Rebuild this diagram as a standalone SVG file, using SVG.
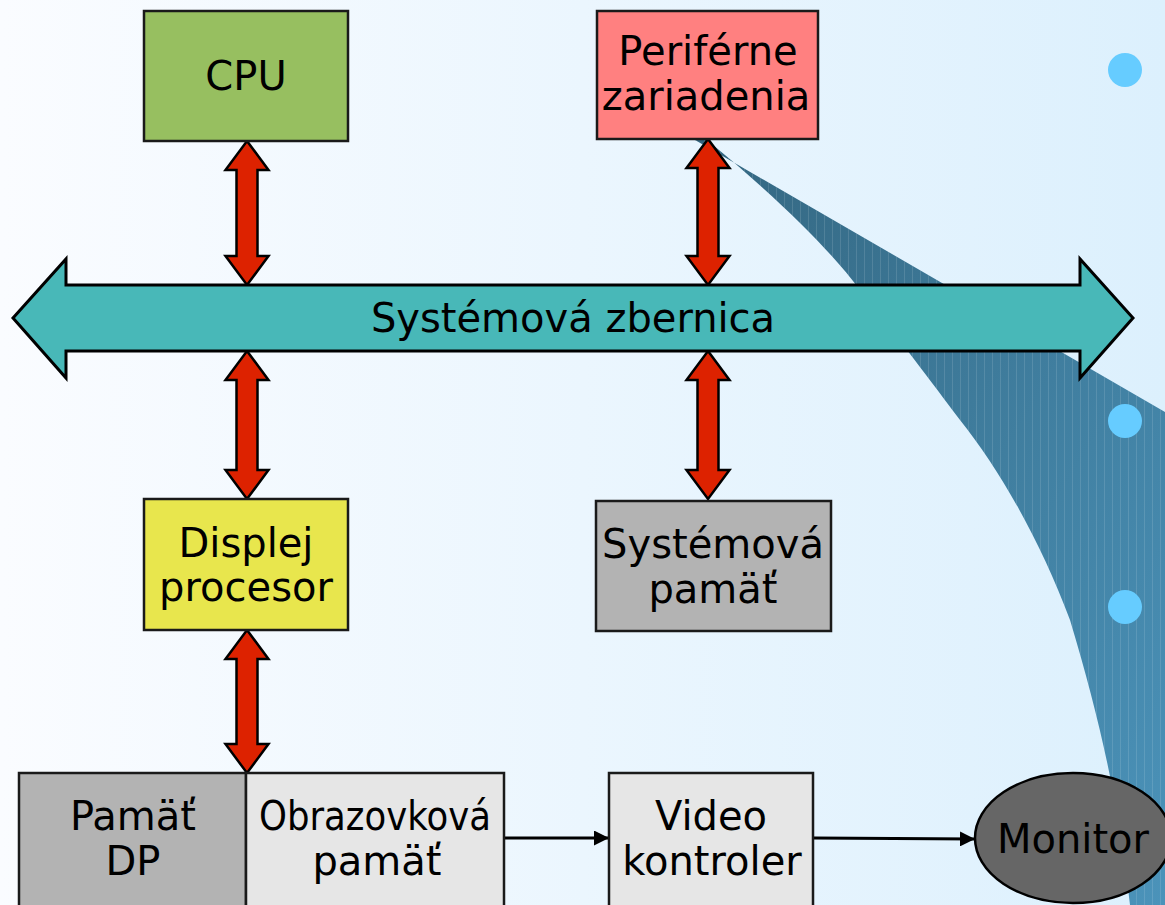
<svg xmlns="http://www.w3.org/2000/svg" width="1165" height="905" viewBox="0 0 1165 905">
<style>
.box{stroke:#1a1a1a;stroke-width:2.5}
.t{font-family:"DejaVu Sans","Noto Sans",sans-serif;font-size:40px;fill:#000;text-anchor:middle}
.dbl{fill:#dd2200;stroke:#000;stroke-width:2.5;stroke-linejoin:miter}
.ln{stroke:#000;stroke-width:3;fill:none}
.bullet{fill:#66ccff}
</style>
<defs>
<linearGradient id="bg" x1="0" y1="0" x2="1" y2="0">
<stop offset="0" stop-color="#fafcff"/>
<stop offset="1" stop-color="#dcf0fd"/>
</linearGradient>
<linearGradient id="sw" x1="0" y1="0" x2="1" y2="1">
<stop offset="0" stop-color="#336680"/>
<stop offset="1" stop-color="#4b93ba"/>
</linearGradient>
<pattern id="stripes" width="8" height="10" patternUnits="userSpaceOnUse">
<rect x="0" y="0" width="1" height="10" fill="#ffffff" fill-opacity="0.12"/>
</pattern>
<marker id="ah" markerWidth="15" markerHeight="15" refX="14" refY="7.5" orient="auto" markerUnits="userSpaceOnUse">
<path d="M0,0 L15,7.5 L0,15 Z" fill="#000"/>
</marker>
</defs>
<rect x="0" y="0" width="1165" height="905" fill="url(#bg)"/>
<g id="swoosh">
<path d="M695,140 L1165,412 L1165,905 L1130,905 C1118,800 1100,720 1070,620 C1040,540 1000,470 960,420 C930,380 900,340 860,290 C830,250 780,200 707,140 Z" fill="url(#sw)"/>
<path d="M695,140 L1165,412 L1165,905 L1130,905 C1118,800 1100,720 1070,620 C1040,540 1000,470 960,420 C930,380 900,340 860,290 C830,250 780,200 707,140 Z" fill="url(#stripes)"/>
</g>
<g id="bullets">
<circle class="bullet" cx="1125" cy="70" r="17"/>
<circle class="bullet" cx="1125" cy="421" r="17"/>
<circle class="bullet" cx="1125" cy="607" r="17"/>
</g>
<g id="connectors">
<path class="dbl" d="M247,141 L268.5,170 L257.5,170 L257.5,256 L268.5,256 L247,285 L225.5,256 L236.5,256 L236.5,170 L225.5,170 Z"/>
<path class="dbl" d="M708,139 L729.5,168 L718.5,168 L718.5,256 L729.5,256 L708,285 L686.5,256 L697.5,256 L697.5,168 L686.5,168 Z"/>
<path class="dbl" d="M247,351 L268.5,380 L257.5,380 L257.5,470 L268.5,470 L247,499 L225.5,470 L236.5,470 L236.5,380 L225.5,380 Z"/>
<path class="dbl" d="M708,351 L729.5,380 L718.5,380 L718.5,470 L729.5,470 L708,499 L686.5,470 L697.5,470 L697.5,380 L686.5,380 Z"/>
<path class="dbl" d="M247,630 L268.5,659 L257.5,659 L257.5,744 L268.5,744 L247,773 L225.5,744 L236.5,744 L236.5,659 L225.5,659 Z"/>
<line class="ln" x1="504" y1="838" x2="608" y2="838" marker-end="url(#ah)"/>
<line class="ln" x1="814" y1="838" x2="974" y2="839" marker-end="url(#ah)"/>
</g>
<g id="bus">
<path d="M13,318 L66,259 L66,285 L1080,285 L1080,259 L1133,318 L1080,378 L1080,351 L66,351 L66,378 Z" fill="#48b8b8" stroke="#000" stroke-width="3" stroke-linejoin="miter"/>
<text class="t" x="573" y="332">Systémová zbernica</text>
</g>
<g id="cpu">
<rect class="box" x="144" y="11" width="204" height="130" fill="#97bf60"/>
<text class="t" x="246" y="90">CPU</text>
</g>
<g id="periferne">
<rect class="box" x="597" y="11" width="221" height="128" fill="#ff8080"/>
<text class="t" x="708" y="65">Periférne</text>
<text class="t" x="706" y="110">zariadenia</text>
</g>
<g id="displej">
<rect class="box" x="144" y="499" width="204" height="131" fill="#e8e64d"/>
<text class="t" x="246" y="557">Displej</text>
<text class="t" x="246" y="601">procesor</text>
</g>
<g id="systemova-pamat">
<rect class="box" x="596" y="501" width="235" height="130" fill="#b3b3b3"/>
<text class="t" x="713" y="558">Systémová</text>
<text class="t" x="713" y="603">pamäť</text>
</g>
<g id="pamat-dp">
<rect class="box" x="19" y="773" width="227" height="134" fill="#b3b3b3"/>
<text class="t" x="133" y="830">Pamäť</text>
<text class="t" x="133" y="875">DP</text>
</g>
<g id="obrazovkova-pamat">
<rect class="box" x="246" y="773" width="258" height="134" fill="#e6e6e6"/>
<text class="t" x="375" y="830" textLength="232" lengthAdjust="spacingAndGlyphs">Obrazovková</text>
<text class="t" x="377" y="875">pamäť</text>
</g>
<g id="video-kontroler">
<rect class="box" x="609" y="773" width="204" height="134" fill="#e6e6e6"/>
<text class="t" x="711" y="830">Video</text>
<text class="t" x="712" y="875">kontroler</text>
</g>
<g id="monitor">
<ellipse cx="1073" cy="838" rx="98" ry="65" fill="#666666" stroke="#000" stroke-width="2.5"/>
<text class="t" x="1073" y="853">Monitor</text>
</g>
</svg>
